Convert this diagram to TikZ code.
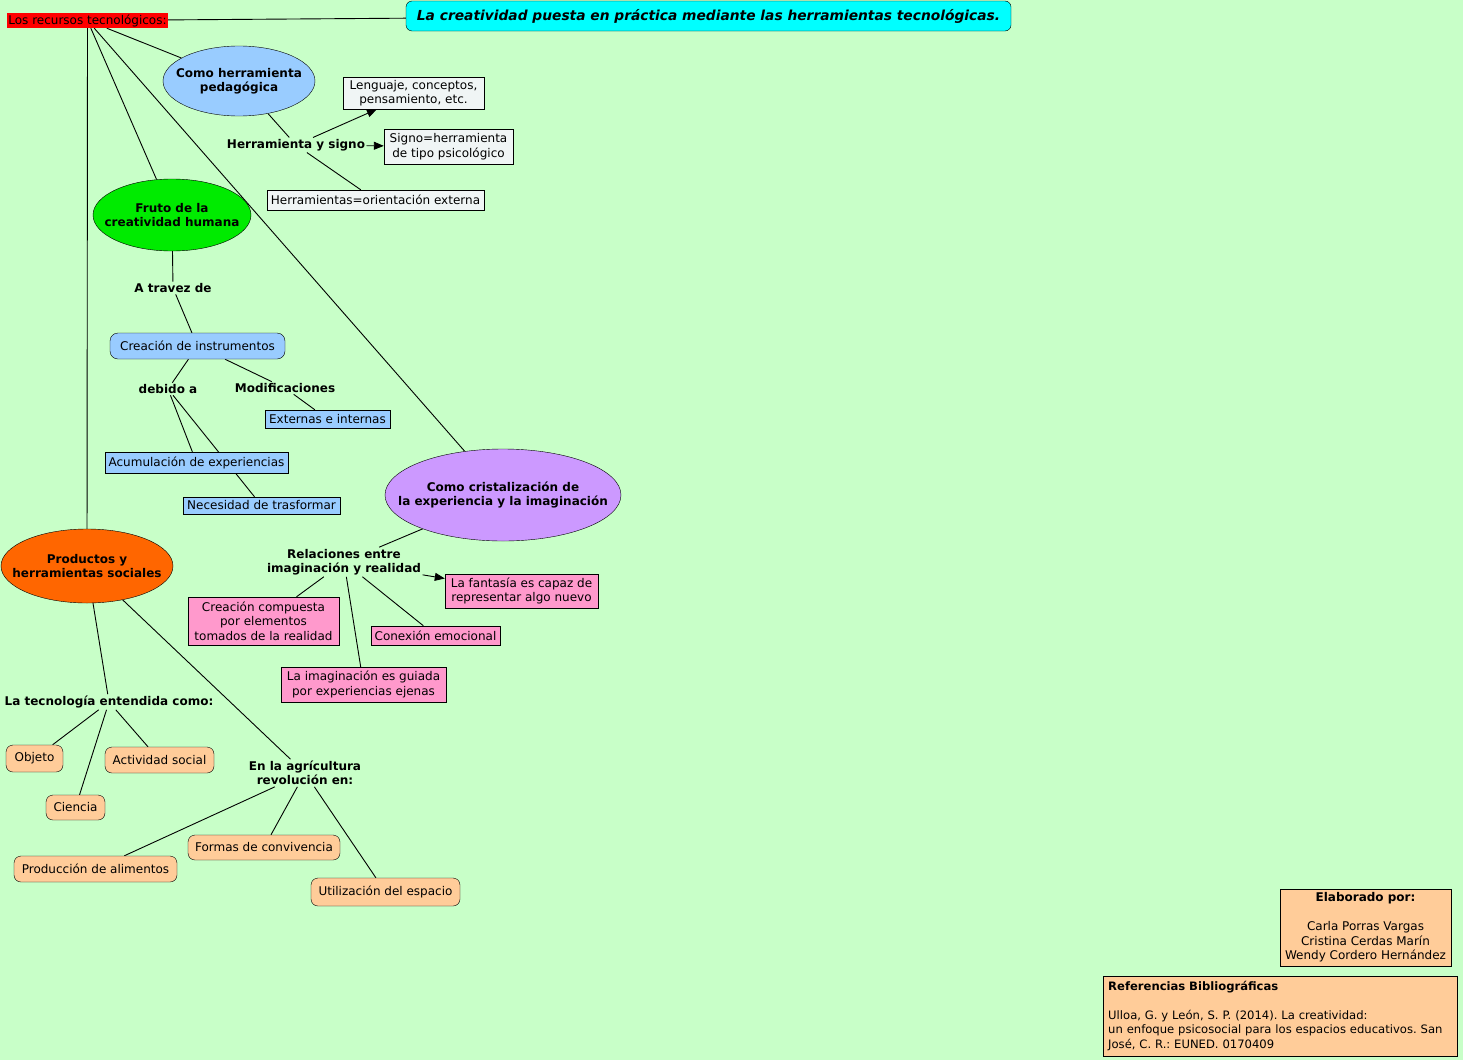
\documentclass[tikz,border=0pt]{standalone}
\usepackage{fontspec}
\setmainfont{DejaVu Sans}
\usetikzlibrary{shapes.geometric,arrows.meta}
\frenchspacing
\pgfdeclarelayer{bgfill}
\pgfdeclarelayer{edges}
\pgfsetlayers{bgfill,edges,main}
\definecolor{bgc}{RGB}{200,255,200}
\definecolor{cyanc}{RGB}{0,255,255}
\definecolor{redc}{RGB}{255,0,0}
\definecolor{blc}{RGB}{153,204,255}
\definecolor{grc}{RGB}{0,235,0}
\definecolor{puc}{RGB}{204,153,255}
\definecolor{pkc}{RGB}{255,153,204}
\definecolor{orc}{RGB}{255,102,0}
\definecolor{bec}{RGB}{255,204,153}
\definecolor{wtc}{RGB}{240,245,245}
\begin{document}
\begin{tikzpicture}[x=1pt,y=-1pt,
  every node/.style={font=\fontsize{12}{14.5}\selectfont\frenchspacing, text=black, align=center},
  title/.style={draw, rounded corners=6pt, fill=cyanc, minimum width=605pt, minimum height=30pt, font=\fontsize{13.8}{16}\selectfont\bfseries\itshape},
  ell/.style={ellipse, draw, inner sep=0pt},
  elltext/.style={font=\fontsize{12}{14.5}\selectfont\bfseries, align=center, inner sep=0pt},
  sbox/.style={draw, rectangle, inner sep=2pt},
  rbox/.style={draw, rectangle, rounded corners=7pt, inner sep=2pt, fill=bec},
  lab/.style={inner sep=1.5pt, font=\fontsize{12}{14.5}\selectfont\bfseries},
  conn/.style={draw=black, line width=0.9pt},
  arr/.style={conn, -{Triangle[length=10pt,width=8pt]}}
]
\begin{pgfonlayer}{bgfill}
\fill[bgc] (0,0) rectangle (1463,1060);
\end{pgfonlayer}
\useasboundingbox (0,0) rectangle (1463,1060);

% top
\node[title] (t) at (708.5,16) {La creatividad puesta en práctica mediante las herramientas tecnológicas.};
\node[fill=redc, inner sep=0pt, minimum width=161pt, minimum height=15pt] (lr) at (87.5,20.5) {Los recursos tecnológicos:};

% pedagogica
\node[ell, fill=blc, minimum width=152pt, minimum height=70pt, label={[elltext]center:Como herramienta\\pedagógica}] (ch) at (239,81) {};
\node[lab] (hys) at (296,145) {Herramienta y signo};
\node[sbox, fill=wtc, minimum width=141pt, minimum height=32pt] (len) at (413.5,93) {Lenguaje, conceptos,\\pensamiento, etc.};
\node[sbox, fill=wtc, minimum width=129pt, minimum height=35pt] (sig) at (448.5,146.5) {Signo=herramienta\\de tipo psicológico};
\node[sbox, fill=wtc, minimum width=217pt, minimum height=20pt] (her) at (375.5,200) {Herramientas=orientación externa};

% fruto
\node[ell, fill=grc, minimum width=158pt, minimum height=72pt, label={[elltext]center:Fruto de la\\creatividad humana}] (fr) at (172,215) {};
\node[lab] (atr) at (173,288) {A travez de};
\node[sbox, rounded corners=8pt, fill=blc, minimum width=175pt, minimum height=26pt] (cre) at (197.5,346) {Creación de instrumentos};
\node[lab] (deb) at (168,389) {debido a};
\node[lab] (mod) at (285,388) {Modificaciones};
\node[sbox, fill=blc, minimum width=125pt, minimum height=18pt] (ext) at (327.5,419) {Externas e internas};
\node[sbox, fill=blc, minimum width=183pt, minimum height=21pt] (acu) at (196.5,462.5) {Acumulación de experiencias};
\node[sbox, fill=blc, minimum width=157pt, minimum height=17pt] (nec) at (261.5,505.5) {Necesidad de trasformar};

% cristalizacion
\node[ell, fill=puc, minimum width=236pt, minimum height=92pt, label={[elltext]center:Como cristalización de\\la experiencia y la imaginación}] (cr) at (503,495) {};
\node[lab] (rel) at (344,562) {Relaciones entre\\imaginación y realidad};
\node[sbox, fill=pkc, minimum width=153pt, minimum height=34pt] (fan) at (521.5,591) {La fantasía es capaz de\\representar algo nuevo};
\node[sbox, fill=pkc, minimum width=151pt, minimum height=48pt] (com) at (263.5,621) {Creación compuesta\\por elementos\\tomados de la realidad};
\node[sbox, fill=pkc, minimum width=129pt, minimum height=19pt] (con) at (435.5,635.5) {Conexión emocional};
\node[sbox, fill=pkc, minimum width=165pt, minimum height=35pt] (igu) at (363.5,684.5) {La imaginación es guiada\\por experiencias ejenas};

% productos
\node[ell, fill=orc, minimum width=172pt, minimum height=74pt, label={[elltext]center:Productos y\\herramientas sociales}] (pr) at (87,566) {};
\node[lab] (tec) at (109,702) {La tecnología entendida como:};
\node[rbox, minimum width=57pt, minimum height=27pt] (obj) at (34.5,758.5) {Objeto};
\node[rbox, minimum width=109pt, minimum height=26pt] (act) at (159.5,760) {Actividad social};
\node[rbox, minimum width=59pt, minimum height=25pt] (cie) at (75.5,807.5) {Ciencia};
\node[lab] (agr) at (305,773) {En la agrícultura\\revolución en:};
\node[rbox, minimum width=163pt, minimum height=26pt] (prod) at (95.5,869) {Producción de alimentos};
\node[rbox, minimum width=152pt, minimum height=25pt] (for) at (264,847.5) {Formas de convivencia};
\node[rbox, minimum width=149pt, minimum height=28pt] (uti) at (385.5,892) {Utilización del espacio};

% credits
\node[sbox, fill=bec, minimum width=171pt, minimum height=77pt] (ela) at (1365.5,927.5) {\textbf{Elaborado por:}\\[14.5pt]Carla Porras Vargas\\Cristina Cerdas Marín\\Wendy Cordero Hernández};
\node[sbox, fill=bec, anchor=north west, minimum width=354pt, minimum height=78pt, text width=344pt, align=left, inner sep=5pt, font=\fontsize{11.6}{14.5}\selectfont\frenchspacing] (ref) at (1103,976) {\textbf{Referencias Bibliográficas}\\[14.5pt]Ulloa, G. y León, S. P. (2014). La creatividad:\\un enfoque psicosocial para los espacios educativos. San\\José, C. R.: EUNED. 0170409};

\begin{pgfonlayer}{edges}
\draw[conn] (lr) -- (t);
\draw[conn] (lr) -- (ch);
\draw[conn] (lr) -- (fr);
\draw[conn] (lr) -- (cr);
\draw[conn] (lr) -- (pr);
\draw[conn] (ch) -- (hys);
\draw[arr] (hys) -- (len);
\draw[arr] (hys) -- (sig);
\draw[conn] (hys) -- (her);
\draw[conn] (fr) -- (atr);
\draw[conn] (atr) -- (cre);
\draw[conn] (cre) -- (deb);
\draw[conn] (cre) -- (mod);
\draw[conn] (mod) -- (ext);
\draw[conn] (deb) -- (acu);
\draw[conn] (deb) -- (nec);
\draw[conn] (cr) -- (rel);
\draw[arr] (rel) -- (fan);
\draw[conn] (rel) -- (com);
\draw[conn] (rel) -- (igu);
\draw[conn] (rel) -- (con);
\draw[conn] (pr) -- (tec);
\draw[conn] (pr) -- (agr);
\draw[conn] (tec) -- (obj);
\draw[conn] (tec) -- (cie);
\draw[conn] (tec) -- (act);
\draw[conn] (agr) -- (prod);
\draw[conn] (agr) -- (for);
\draw[conn] (agr) -- (uti);
\end{pgfonlayer}
\end{tikzpicture}
\end{document}
